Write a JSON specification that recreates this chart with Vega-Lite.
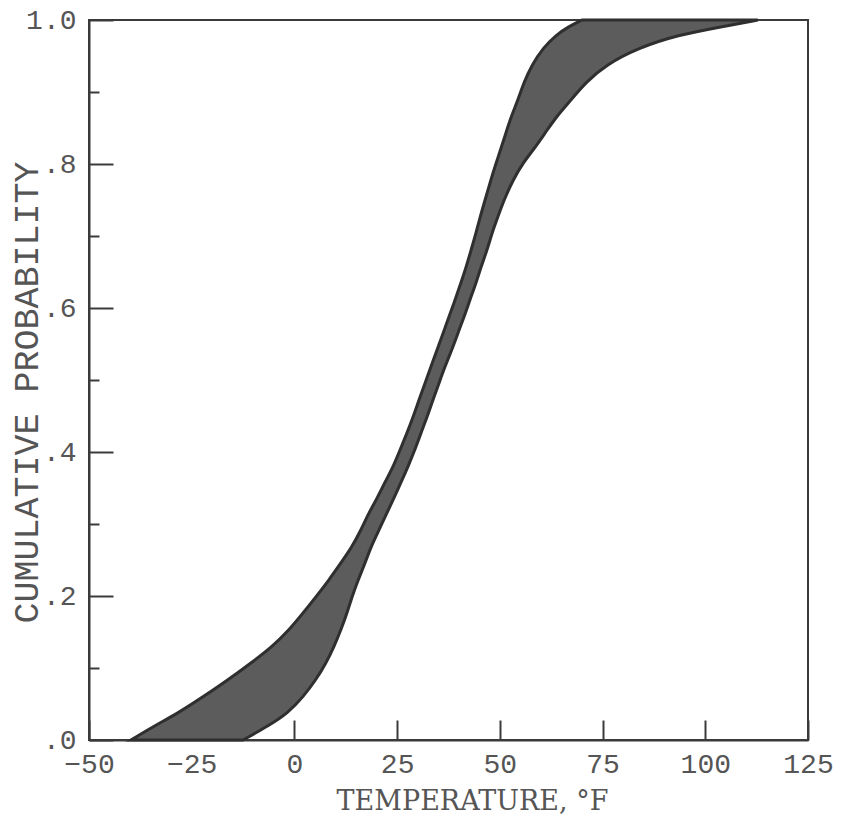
{
  "$schema": "https://vega.github.io/schema/vega-lite/v6.json",
  "width": 719,
  "height": 720,
  "autosize": {"type": "none"},
  "padding": {"left": 89, "top": 20, "right": 39, "bottom": 88},
  "background": "white",
  "config": {
    "view": {"stroke": "#3a3a3a", "strokeWidth": 2},
    "axis": {
      "grid": false,
      "domainColor": "#3a3a3a",
      "domainWidth": 2,
      "tickColor": "#3a3a3a",
      "tickWidth": 2,
      "labelFont": "Liberation Mono",
      "labelColor": "#555555",
      "labelFontSize": 28,
      "titleColor": "#555555",
      "titleFontWeight": "normal"
    }
  },
  "data": {
    "values": [
      {"p": 0, "lo": -39.8, "hi": -12.5},
      {"p": 0.0208, "lo": -33.7, "hi": -6.0},
      {"p": 0.0375, "lo": -28.3, "hi": -1.6},
      {"p": 0.0597, "lo": -22.3, "hi": 2.1},
      {"p": 0.0833, "lo": -16.2, "hi": 5.2},
      {"p": 0.1069, "lo": -10.6, "hi": 7.7},
      {"p": 0.1292, "lo": -5.5, "hi": 9.6},
      {"p": 0.1528, "lo": -1.3, "hi": 11.3},
      {"p": 0.1764, "lo": 2.1, "hi": 12.8},
      {"p": 0.1986, "lo": 5.2, "hi": 14.0},
      {"p": 0.2222, "lo": 8.4, "hi": 15.5},
      {"p": 0.2458, "lo": 11.3, "hi": 17.2},
      {"p": 0.2681, "lo": 14.0, "hi": 18.6},
      {"p": 0.2917, "lo": 16.2, "hi": 20.6},
      {"p": 0.3153, "lo": 18.1, "hi": 22.5},
      {"p": 0.3333, "lo": 19.9, "hi": 24.0},
      {"p": 0.3611, "lo": 22.3, "hi": 26.2},
      {"p": 0.3792, "lo": 24.0, "hi": 27.6},
      {"p": 0.4028, "lo": 25.7, "hi": 29.3},
      {"p": 0.4264, "lo": 27.4, "hi": 30.8},
      {"p": 0.4486, "lo": 28.9, "hi": 32.3},
      {"p": 0.4722, "lo": 30.3, "hi": 33.7},
      {"p": 0.4958, "lo": 31.8, "hi": 35.2},
      {"p": 0.5181, "lo": 33.2, "hi": 36.6},
      {"p": 0.5417, "lo": 34.7, "hi": 38.3},
      {"p": 0.5653, "lo": 36.2, "hi": 39.8},
      {"p": 0.5875, "lo": 37.6, "hi": 41.3},
      {"p": 0.6111, "lo": 39.1, "hi": 42.7},
      {"p": 0.6347, "lo": 40.5, "hi": 44.2},
      {"p": 0.6569, "lo": 41.8, "hi": 45.4},
      {"p": 0.6806, "lo": 43.0, "hi": 46.9},
      {"p": 0.7042, "lo": 44.2, "hi": 48.1},
      {"p": 0.7264, "lo": 45.2, "hi": 49.5},
      {"p": 0.75, "lo": 46.4, "hi": 51.0},
      {"p": 0.7778, "lo": 47.8, "hi": 53.2},
      {"p": 0.8014, "lo": 49.1, "hi": 55.6},
      {"p": 0.8222, "lo": 50.3, "hi": 58.5},
      {"p": 0.8472, "lo": 51.7, "hi": 61.5},
      {"p": 0.8681, "lo": 52.9, "hi": 64.1},
      {"p": 0.8889, "lo": 54.4, "hi": 67.3},
      {"p": 0.9139, "lo": 55.9, "hi": 71.0},
      {"p": 0.9375, "lo": 57.8, "hi": 75.8},
      {"p": 0.9611, "lo": 60.5, "hi": 83.6},
      {"p": 0.9792, "lo": 63.7, "hi": 93.4},
      {"p": 0.9903, "lo": 66.6, "hi": 103.6},
      {"p": 1.0, "lo": 70.0, "hi": 112.8}
    ]
  },
  "mark": {
    "type": "area",
    "orient": "horizontal",
    "interpolate": "basis",
    "fill": "#5c5c5c",
    "stroke": "#2f2f2f",
    "strokeWidth": 3
  },
  "encoding": {
    "y": {
      "field": "p",
      "type": "quantitative",
      "scale": {"domain": [0, 1], "nice": false, "zero": false},
      "axis": {
        "values": [0, 0.1, 0.2, 0.3, 0.4, 0.5, 0.6, 0.7, 0.8, 0.9, 1.0],
        "tickSize": {"condition": {"test": "round(datum.value*10) % 2 == 1", "value": -10}, "value": -24},
        "labelExpr": "round(datum.value*10) % 2 == 1 ? '' : (datum.value >= 1 ? '1.0' : '.' + round(datum.value*10))",
        "labelPadding": 37,
        "labelBaseline": "middle",
        "title": "CUMULATIVE PROBABILITY",
        "titleFont": "Liberation Mono",
        "titleFontSize": 35,
        "titleAngle": 270,
        "titleX": -63,
        "titleY": 372,
        "titleAlign": "center",
        "titleBaseline": "middle"
      }
    },
    "x": {
      "field": "lo",
      "type": "quantitative",
      "scale": {"domain": [-50, 125], "nice": false, "zero": false},
      "axis": {
        "values": [-50, -25, 0, 25, 50, 75, 100, 125],
        "tickSize": -20,
        "labelPadding": 30,
        "labelFlush": false,
        "labelOverlap": false,
        "title": "TEMPERATURE, °F",
        "titleFont": "DejaVu Serif",
        "titleFontSize": 27,
        "titleX": 383,
        "titleY": 61,
        "titleAlign": "center",
        "titleBaseline": "middle"
      }
    },
    "x2": {"field": "hi"}
  }
}
